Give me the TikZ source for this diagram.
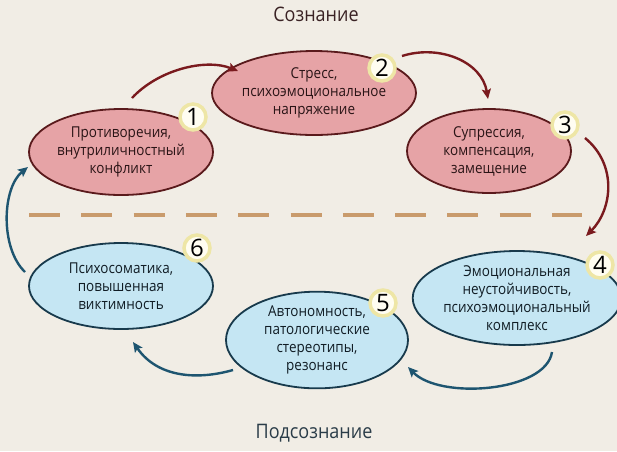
\documentclass[tikz,border=0pt]{standalone}
\usepackage{fontspec}
\setmainfont{Open Sans}
\newfontfamily\elltext[FakeStretch=0.9]{Open Sans}
\usetikzlibrary{shapes.geometric,arrows.meta}
\definecolor{bg}{HTML}{F1EDE5}
\definecolor{pinkfill}{HTML}{E6A3A6}
\definecolor{pinkline}{HTML}{5A1A1C}
\definecolor{bluefill}{HTML}{C5E6F3}
\definecolor{blueline}{HTML}{183A4C}
\definecolor{redarrow}{HTML}{7A1A1E}
\definecolor{bluearrow}{HTML}{1E5570}
\definecolor{dashcol}{HTML}{C99B6C}
\definecolor{badgefill}{HTML}{FFFDF1}
\definecolor{badgering}{HTML}{EEE6A6}
\definecolor{toptext}{HTML}{3A2224}
\definecolor{bottext}{HTML}{2A3C48}
\definecolor{pinktext}{HTML}{2A1416}
\definecolor{bluetext}{HTML}{101C24}
\begin{document}
\begin{tikzpicture}[x=1pt,y=-1pt,
  ell/.style={ellipse, inner sep=0pt, line width=1.8pt, align=center,
    font=\elltext\fontsize{15}{18}\selectfont},
  pinkell/.style={ell, draw=pinkline, fill=pinkfill, text=pinktext},
  blueell/.style={ell, draw=blueline, fill=bluefill, text=bluetext},
  badge/.style={circle, inner sep=0pt, minimum size=26pt, fill=badgefill,
    draw=badgering, line width=3.5pt, font=\fontsize{24}{24}\selectfont, text=black},
  redarr/.style={draw=redarrow, line width=2.4pt, -{Stealth[length=10pt,width=9pt,inset=2pt]}},
  bluearr/.style={draw=bluearrow, line width=2.4pt, -{Stealth[length=10pt,width=9pt,inset=2pt]}},
  title/.style={font=\elltext\fontsize{20}{20}\selectfont}
]
\path[use as bounding box, fill=bg] (0,0) rectangle (617,451);

\node[title, text=toptext] (t1) at (316,14) {Сознание};
\node[title, text=bottext] (t2) at (314,433) {Подсознание};

\draw[dashcol, line width=4pt, dash pattern=on 31pt off 21.3pt] (29,215) coordinate (d1) -- (582,215) coordinate (d2);

\node[pinkell, minimum width=184pt, minimum height=86pt] (e1) at (121,152) {Противоречия,\\внутриличностный\\конфликт};
\node[pinkell, minimum width=160pt, minimum height=84pt] (e2) at (314,93) {Стресс,\\психоэмоциональное\\напряжение};
\node[pinkell, minimum width=164pt, minimum height=84pt] (e3) at (489,151) {Супрессия,\\компенсация,\\замещение};
\node[blueell, minimum width=186pt, minimum height=94pt] (e4) at (517,298) {Эмоциональная\\неустойчивость,\\психоэмоциональный\\комплекс};
\node[blueell, minimum width=182pt, minimum height=90pt] (e5) at (317,340) {Автономность,\\патологические\\стереотипы,\\резонанс};
\node[blueell, minimum width=184pt, minimum height=86pt] (e6) at (121,286) {Психосоматика,\\повышенная\\виктимность};

\node[badge] (n1) at (193,117) {1};
\node[badge] (n2) at (382,68) {2};
\node[badge] (n3) at (565,125) {3};
\node[badge] (n4) at (600,265) {4};
\node[badge] (n5) at (383,303) {5};
\node[badge] (n6) at (197,248) {6};

\coordinate (a12s) at (132,98);
\coordinate (a12e) at (238,71);
\coordinate (a23s) at (402,56);
\coordinate (a23e) at (488,99);
\coordinate (a34s) at (585,138);
\coordinate (a34e) at (586,236);
\coordinate (a45s) at (552,352);
\coordinate (a45e) at (408,367);
\coordinate (a56s) at (233,370);
\coordinate (a56e) at (133,342);
\coordinate (a61s) at (25,272);
\coordinate (a61e) at (28,167);

\draw[redarr] (a12s) .. controls (158,70) and (205,58) .. (a12e);
\draw[redarr] (a23s) .. controls (440,44) and (482,62) .. (a23e);
\draw[redarr] (a34s) .. controls (618,165) and (612,210) .. (a34e);
\draw[bluearr] (a45s) .. controls (546,392) and (440,400) .. (a45e);
\draw[bluearr] (a56s) .. controls (198,380) and (158,378) .. (a56e);
\draw[bluearr] (a61s) .. controls (0,248) and (2,188) .. (a61e);
\end{tikzpicture}
\end{document}
